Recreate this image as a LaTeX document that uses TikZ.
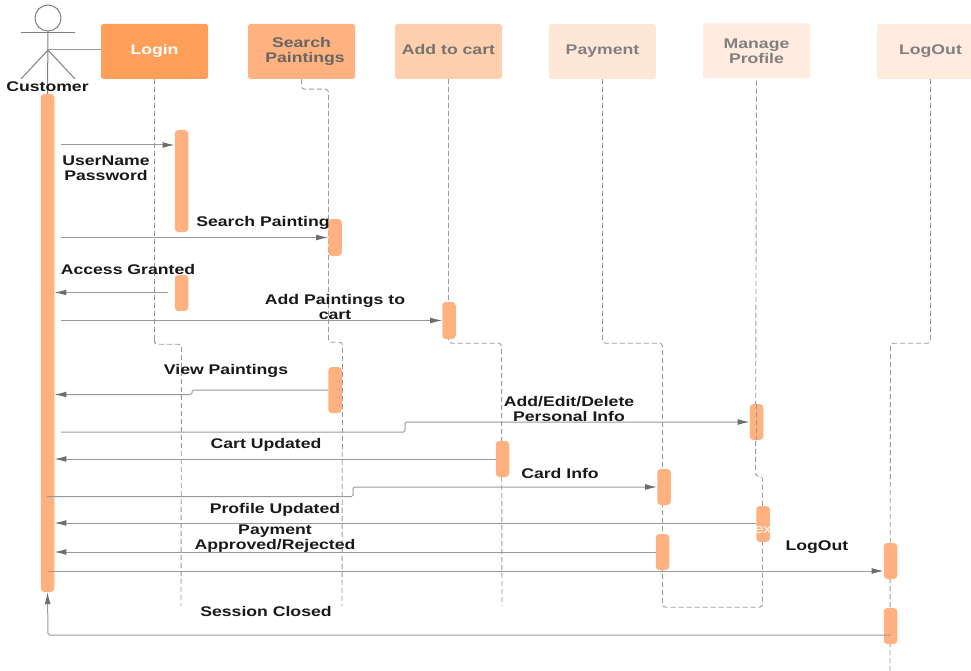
\documentclass[tikz,border=0pt]{standalone}
\usepackage{fontspec}
\setmainfont[FakeStretch=1.26]{Liberation Sans}
\usetikzlibrary{arrows.meta}
\definecolor{barcol}{HTML}{FFB27F}
\definecolor{linecol}{HTML}{9A9A9A}
\definecolor{tipcol}{HTML}{6E6E6E}

\begin{document}
\begin{tikzpicture}[x=1pt, y=-1pt,
    box/.style = {rectangle, rounded corners=2.5pt, minimum width=107pt, minimum height=55pt, inner sep=0pt, align=center, font=\bfseries\fontsize{14}{15}\selectfont},
    oneline/.style = {text height=9pt, text depth=3pt},
    bar/.style = {rectangle, rounded corners=3.5pt, fill=barcol, minimum width=13.5pt, inner sep=0pt},
    lbl/.style = {inner sep=0pt, align=center, text=black!90, yshift=-1.2pt, font=\bfseries\fontsize{14}{15}\selectfont},
    lifeline/.style = {draw=linecol, dashed, dash pattern=on 5pt off 3pt, line width=0.9pt, rounded corners=3pt},
    msg/.style = {draw=linecol, line width=1pt, rounded corners=1.5pt, -{Latex[length=12pt, width=6pt, color=tipcol]}},
    plain/.style = {draw=linecol, line width=1pt},
    actor/.style = {draw=black!50, line width=1pt}]
    \useasboundingbox (0,0) rectangle (971,671);

    % header boxes
    \node[box, oneline, fill={rgb,255:red,255;green,159;blue,90}, text=white] (login) at (154.5,51.5) {Login};
    \node[box, fill=barcol, text=black!60] (search) at (301.5,51.5) {Search\\\hspace*{7pt}Paintings};
    \node[box, oneline, fill={rgb,255:red,255;green,207;blue,174}, text=black!55] (cart) at (448.5,51.5) {Add to cart};
    \node[box, oneline, fill={rgb,255:red,255;green,231;blue,216}, text=black!50] (pay) at (602.5,51.5) {Payment};
    \node[box, fill={rgb,255:red,255;green,235;blue,223}, text=black!50] (manage) at (756.5,51) {Manage\\Profile};
    \node[box, oneline, fill={rgb,255:red,255;green,235;blue,223}, text=black!50] (logout) at (930.5,51.5) {LogOut};

    % lifelines
    \coordinate (loginEnd) at (181,606);
    \coordinate (searchEnd) at (342,606);
    \coordinate (cartEnd) at (502,606);
    \coordinate (logoutEnd) at (890,671);
    \draw[lifeline] (login.south) -- ++(0,261) -- ++(0,4) -- ++(27,0) -- (loginEnd);
    \draw[lifeline] (search.south) -- ++(0,10) -- ++(27,0) -- ++(0,253) -- ++(14,0) -- (searchEnd);
    \draw[lifeline] (cart.south) -- ++(0,264) -- ++(53,0) -- (cartEnd);
    \draw[lifeline] (logout.south) -- ++(0,264) -- ++(-40,0) -- (logoutEnd);
    \draw[lifeline] (pay.south) -- ++(0,264) -- ++(60,0) -- ++(0,264) -- ++(100,0) -- ++(0,-131) -- ++(-7,0) -- (manage.south);

    % activations
    \node[bar, minimum height=498pt] (custBar) at (47.5,343) {};
    \node[bar, minimum height=102pt] (loginBarA) at (181.5,181) {};
    \node[bar, minimum height=37pt] (searchBarA) at (335,237.5) {};
    \node[bar, minimum height=36pt] (loginBarB) at (181.5,293) {};
    \node[bar, minimum height=37pt] (cartBarA) at (449,320.5) {};
    \node[bar, minimum height=46pt] (searchBarB) at (335,390) {};
    \node[bar, minimum height=36pt] (manageBarA) at (756.5,422) {};
    \node[bar, minimum height=36pt] (cartBarB) at (502.5,459) {};
    \node[bar, minimum height=36pt] (payBarA) at (664,487) {};
    \node[bar, minimum height=36pt] (manageBarB) at (763,524) {};
    \node[bar, minimum height=36pt] (payBarB) at (662.5,552) {};
    \node[bar, minimum height=36pt] (logoutBarA) at (890.5,561) {};
    \node[bar, minimum height=36pt] (logoutBarB) at (890.5,626) {};
    \draw[lifeline] (manageBarA.north) -- (manageBarA.south);
    \node[inner sep=0pt, text=white, font=\fontsize{13}{13}\selectfont] (manageTxt) at (763,529) {text};

    % customer
    \node[draw=black!50, line width=1pt, circle, minimum size=26pt, inner sep=0pt] (custHead) at (48,18) {};
    \coordinate (armL) at (21,33);
    \coordinate (armR) at (75,33);
    \coordinate (hip) at (48,50);
    \coordinate (legL) at (21,79);
    \coordinate (legR) at (75,79);
    \draw[actor] (custHead.south) -- (custBar.north);
    \draw[actor] (armL) -- (armR);
    \draw[actor] (legL) -- (hip) -- (legR);
    \draw[plain] (hip) -- (login.west |- hip);
    \node[lbl] (custLbl) at (47.5,85) {Customer};

    % messages
    \coordinate (m1) at (61,145);
    \draw[msg] (m1) -- (m1 -| loginBarA.west);
    \coordinate (m2) at (61,237.5);
    \draw[msg] (m2) -- (searchBarA.west);
    \coordinate (m3) at (168,292.5);
    \draw[msg] (m3) -- (m3 -| custBar.east);
    \coordinate (m4) at (61,320.5);
    \draw[msg] (m4) -- (cartBarA.west);
    \coordinate (m5) at (192,394.5);
    \draw[msg] (searchBarB.west) -| (m5) -- (m5 -| custBar.east);
    \coordinate (m6) at (61,432);
    \coordinate (m6b) at (405,422);
    \draw[msg] (m6) -| (m6b) -- (manageBarA.west);
    \draw[msg] (cartBarB.west) -- (cartBarB.west -| custBar.east);
    \coordinate (m8) at (47,496.5);
    \coordinate (m8b) at (353,487);
    \draw[msg] (m8) -| (m8b) -- (payBarA.west);
    \coordinate (m9) at (756,523);
    \draw[msg] (m9) -- (m9 -| custBar.east);
    \draw[msg] (payBarB.west) -- (payBarB.west -| custBar.east);
    \coordinate (m11) at (48,571);
    \draw[msg] (m11) -- (m11 -| logoutBarA.west);
    \coordinate (m12) at (48,635);
    \draw[msg] (logoutBarB.center |- m12) -- (m12) -- (custBar.south);

    % labels
    \node[lbl] (l1) at (106,167) {UserName\\Password};
    \node[lbl] (l2) at (263,222) {Search Painting};
    \node[lbl] (l3) at (128,268) {Access Granted};
    \node[lbl] (l4) at (335,306) {Add Paintings to\\cart};
    \node[lbl] (l5) at (226,370) {View Paintings};
    \node[lbl] (l6) at (569,408) {Add/Edit/Delete\\Personal Info};
    \node[lbl] (l7) at (266,444) {Cart Updated};
    \node[lbl] (l8) at (560,472) {Card Info};
    \node[lbl] (l9) at (275,509) {Profile Updated};
    \node[lbl] (l10) at (275,537) {Payment\\Approved/Rejected};
    \node[lbl] (l11) at (817,546) {LogOut};
    \node[lbl] (l12) at (266,610) {Session Closed};

\end{tikzpicture}
\end{document}
